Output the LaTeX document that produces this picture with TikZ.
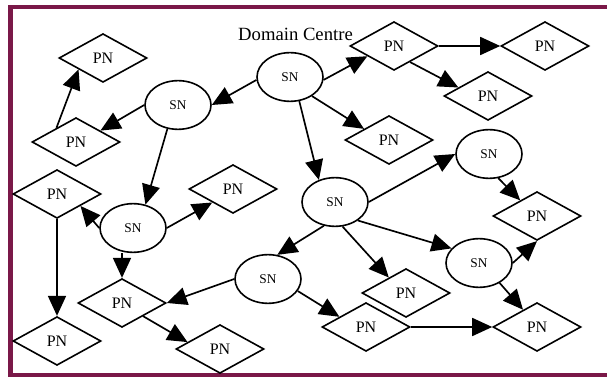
\documentclass[tikz,border=0pt]{standalone}
\usepackage{fontspec}
\setmainfont{Liberation Serif}
\usetikzlibrary{shapes.geometric,arrows.meta}
\definecolor{framecol}{RGB}{122,24,72}
\begin{document}
\begin{tikzpicture}[x=0.75pt,y=-0.75pt,
  pn/.style={diamond,draw,line width=1.2pt,inner sep=0pt,minimum width=66pt,minimum height=36.5pt,font=\fontsize{12}{14}\selectfont},
  sn/.style={ellipse,draw,line width=1.2pt,inner sep=0pt,minimum width=49.5pt,minimum height=36.5pt,font=\fontsize{10}{12}\selectfont},
  link/.style={line width=1.25pt,-{Triangle[length=15pt,width=13.5pt]}},
  title/.style={font=\fontsize{14}{16}\selectfont,inner sep=0pt,anchor=base}
]
\useasboundingbox (0,0) rectangle (607,377);
\begin{scope}
  \clip (0,0) rectangle (607,377);
  \draw[framecol,line width=3.4pt] (10.5,7) rectangle (615,375);
\end{scope}

\node[title] (title) at (295.5,41) {Domain Centre};

% SN nodes
\node[sn] (sn0) at (290,77) {SN};
\node[sn] (sn1) at (178,105) {SN};
\node[sn] (sn2) at (133,228) {SN};
\node[sn] (sn3) at (268,279) {SN};
\node[sn] (sn4) at (335,202) {SN};
\node[sn] (sne) at (489,154) {SN};
\node[sn] (sn5) at (479,263) {SN};

% PN nodes
\node[pn] (pn1) at (103,58) {PN};
\node[pn] (pn2) at (76,142) {PN};
\node[pn] (pna) at (394,46) {PN};
\node[pn] (pnb) at (545,46) {PN};
\node[pn] (pnc) at (488,96) {PN};
\node[pn] (pnd) at (389,140) {PN};
\node[pn] (pn3) at (57,194) {PN};
\node[pn] (pn4) at (233,189) {PN};
\node[pn] (pn5) at (122,303) {PN};
\node[pn] (pn6) at (57,341) {PN};
\node[pn] (pn7) at (220,349) {PN};
\node[pn] (pn8) at (537,216) {PN};
\node[pn] (pn9) at (406,293) {PN};
\node[pn] (pn10) at (366,327) {PN};
\node[pn] (pn11) at (537,327) {PN};

% connectors
\draw[link] (sn0.185) -- (sn1.east);
\draw[link] (sn1.west) -- (pn2.25);
\draw[link] (pn2.144) -- (pn1.205);
\draw[link] (sn1.246) -- (sn2.62);
\draw[link] (sn2.west) -- (pn3.333);
\draw[link] (sn2.east) -- (pn4.213);
\draw[link] (pn5.north |- sn2.south) -- (pn5.north);
\draw[link] (pn3.south) -- (pn6.north);
\draw[link] (pn5.328) -- (pn7.168);
\draw[link] (sn3.west) -- (pn5.east);
\draw[link] (sn4.245) -- (sn3.69);
\draw[link] (sn4.321) -- (sn5.152);
\draw[link] (sn4.287) -- (pn9.138);
\draw[link] (sn4.east) -- (sne.west);
\draw[link] (sne.291) -- (pn8.137);
\draw[link] (sn5.east) -- (pn8.south);
\draw[link] (sn5.316) -- (pn11.129);
\draw[link] (sn3.338) -- (pn10.159);
\draw[link] (pn10.east) -- (pn11.west);
\draw[link] (sn0.291) -- (sn4.126);
\draw[link] (sn0.355) -- (pna.201);
\draw[link] (sn0.319) -- (pnd.156);
\draw[link] (pna.east) -- (pnb.west);
\draw[link] (pna.315) -- (pnc.164);
\end{tikzpicture}
\end{document}
